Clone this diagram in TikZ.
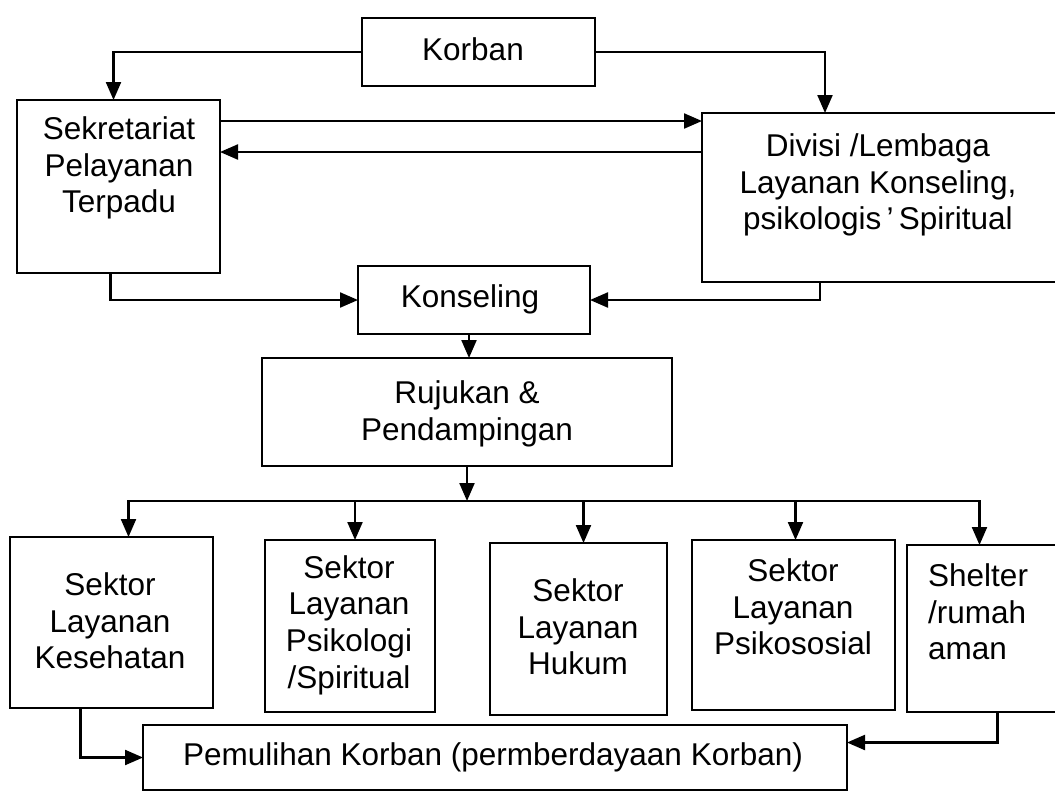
\documentclass[tikz,border=0pt]{standalone}
\usepackage{fontspec}
\setmainfont{Liberation Sans}
\usetikzlibrary{arrows.meta}
\tikzset{panel/.style={draw, line width=2.4pt, inner sep=0pt, outer sep=0pt},
         caption/.style={align=center, inner sep=0pt,
         font=\fontsize{31.5}{36.6}\selectfont},
         arr/.style={line width=2.2pt, -{Triangle[length=18pt,width=15pt]}}}

\begin{document}
\begin{tikzpicture}[x=1pt,y=-1pt]
  \useasboundingbox (0,0) rectangle (1055,793);
  \clip (0,0) rectangle (1055,793);

  \node[panel, minimum width=233pt, minimum height=68pt]  (korban) at (478.5,52) {};
  \node[panel, minimum width=203pt, minimum height=173pt] (sek)    at (118.5,186.5) {};
  \node[panel, minimum width=360pt, minimum height=169pt] (div)    at (882,197.5) {};
  \node[panel, minimum width=232pt, minimum height=68pt]  (kons)   at (474,300) {};
  \node[panel, minimum width=410pt, minimum height=108pt] (ruj)    at (467,412) {};
  \node[panel, minimum width=203pt, minimum height=171pt] (kes)    at (111.5,622.5) {};
  \node[panel, minimum width=170pt, minimum height=172pt] (psi)    at (350,626) {};
  \node[panel, minimum width=177pt, minimum height=172pt] (huk)    at (578.5,629) {};
  \node[panel, minimum width=203pt, minimum height=170pt] (sos)    at (793.5,625) {};
  \node[panel, minimum width=155pt, minimum height=167pt] (shel)   at (984.5,628.5) {};
  \node[panel, minimum width=704pt, minimum height=65pt]  (pem)    at (495,757.5) {};

  \node[caption] (korbanT) at (473,49)  {Korban};
  \node[caption] (sekT)    at (119,168) {Sekretariat\\Pelayanan\\Terpadu};
  \node[caption] (divT)    at (878,185) {Divisi /Lembaga\\Layanan Konseling,\\psikologis\,'\,Spiritual};
  \node[caption] (konsT)   at (470,299) {Konseling};
  \node[caption] (rujT)    at (467,414) {Rujukan \&\\Pendampingan};
  \node[caption] (kesT)    at (110,621) {Sektor\\Layanan\\Kesehatan};
  \node[caption] (psiT)    at (349,625) {Sektor\\Layanan\\Psikologi\\/Spiritual};
  \node[caption] (hukT)    at (578,627) {Sektor\\Layanan\\Hukum};
  \node[caption] (sosT)    at (793,607) {Sektor\\Layanan\\Psikososial};
  \node[caption, align=left, anchor=west] (shelT) at (928,612) {Shelter\\/rumah\\aman};
  \node[caption] (pemT)    at (493,757) {Pemulihan Korban (permberdayaan Korban)};

  \draw[arr] (korban.west) -| ([xshift=-5pt]sek.north);
  \draw[arr] (korban.east) -| ([xshift=-57pt]div.north);
  \draw[arr] ([yshift=-21pt]sek.north east) -- ([yshift=-21pt]sek.north east -| div.west);
  \draw[arr] ([yshift=-52pt]sek.north east -| div.west) -- ([yshift=-52pt]sek.north east);
  \draw[arr] ([xshift=-8pt]sek.south) |- (kons.west);
  \draw[arr] ([xshift=-62pt]div.south) |- (kons.east);
  \draw[arr] ([xshift=-5pt]kons.south) -- ([xshift=-5pt]kons.south |- ruj.north);

  \coordinate (fork) at (467,501);
  \draw[arr] (ruj.south) -- (fork);
  \foreach \sect/\dx in {kes/17, psi/5, huk/5, sos/2, shel/-5}
    \draw[arr] (fork) -| ([xshift=\dx pt]\sect.north);

  \draw[arr] ([xshift=-31pt]kes.south) |- (pem.west);
  \draw[arr] ([xshift=13pt]shel.south) |- ([yshift=15pt]pem.east);
\end{tikzpicture}
\end{document}
